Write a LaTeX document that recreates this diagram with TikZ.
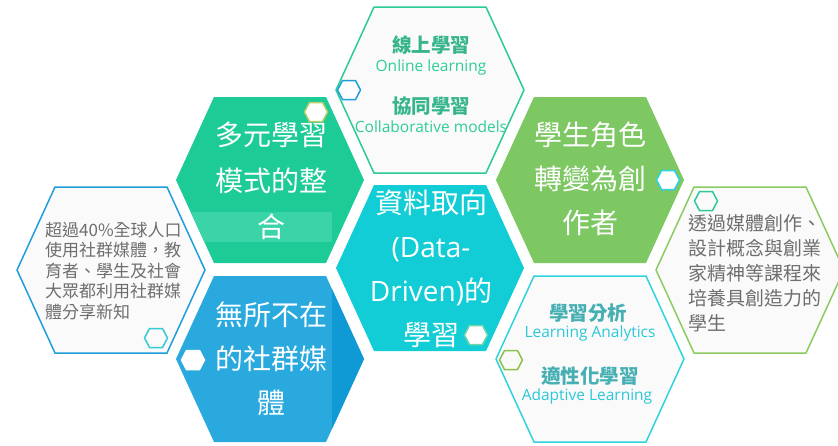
\documentclass[tikz,border=0pt]{standalone}
\usepackage{fontspec}
\setmainfont{Noto Sans CJK TC}
\newfontfamily\latinfont{Open Sans}
\definecolor{tealgreen}{HTML}{1DCB96}
\definecolor{tealband}{HTML}{3AD4A8}
\definecolor{skyblue}{HTML}{29A9DE}
\definecolor{deepblue}{HTML}{0F9AD6}
\definecolor{cyanfill}{HTML}{13CDD6}
\definecolor{leafgreen}{HTML}{7DC863}
\definecolor{paper}{HTML}{FAFAFA}
\definecolor{linegreen}{HTML}{2BCB98}
\definecolor{lineblue}{HTML}{1E9FDA}
\definecolor{linecyan}{HTML}{2ED3DE}
\definecolor{linelime}{HTML}{8ACB62}
\definecolor{graytext}{HTML}{6E6E6E}
\definecolor{headgreen}{HTML}{36B58C}
\definecolor{subgreen}{HTML}{2ECC9A}
\definecolor{headteal}{HTML}{46AFB3}
\definecolor{subcyan}{HTML}{2BC8D8}
\newcommand\hexshape[3]{\path[#3] ({#1-94},#2) -- ({#1-56},{#2-83}) -- ({#1+56},{#2-83}) -- ({#1+94},#2) -- ({#1+56},{#2+83}) -- ({#1-56},{#2+83}) -- cycle;}
\newcommand\minihex[3]{\path[#3] ({#1-11.5},#2) -- ({#1-6.5},{#2-9.5}) -- ({#1+6.5},{#2-9.5}) -- ({#1+11.5},#2) -- ({#1+6.5},{#2+9.5}) -- ({#1-6.5},{#2+9.5}) -- cycle;}
\begin{document}
\begin{tikzpicture}[x=1pt,y=-1pt,
  outlinehex/.style={fill=paper, line width=1.5pt},
  ministyle/.style={line width=1.5pt},
  bigtext/.style={text=white, font=\fontsize{28}{44}\selectfont, align=center, inner sep=0pt},
  headtext/.style={font=\fontsize{19.5}{19.5}\selectfont\bfseries, inner sep=0pt},
  subtext/.style={font=\latinfont\fontsize{15.5}{15.5}\selectfont, inner sep=0pt},
  bodytext/.style={text=graytext, align=left, inner sep=0pt, anchor=west}]
\useasboundingbox (0,0) rectangle (838,445);
\fill[white] (0,0) rectangle (838,445);
% large hexagons
\hexshape{430}{90}{outlinehex, draw=linegreen}
\hexshape{270}{180}{fill=tealgreen}
\begin{scope}
  \hexshape{270}{180}{clip}
  \fill[tealband] (170,212) rectangle (332,242);
\end{scope}
\hexshape{270}{359}{fill=skyblue}
\begin{scope}
  \hexshape{270}{359}{clip}
  \fill[deepblue] (332,270) rectangle (370,450);
\end{scope}
\hexshape{430}{268}{fill=cyanfill}
\hexshape{590}{180}{fill=leafgreen}
\hexshape{590}{359}{outlinehex, draw=linecyan}
\hexshape{111}{270}{outlinehex, draw=lineblue}
\hexshape{750}{270}{outlinehex, draw=linelime}
% small hexagons
\minihex{349}{90}{ministyle, fill=white, draw=lineblue}
\minihex{316}{112}{ministyle, fill=white, draw={rgb,255:red,184;green,207;blue,106}}
\minihex{193}{360}{ministyle, fill=white, draw=white}
\minihex{476}{335}{ministyle, fill=white, draw={rgb,255:red,110;green,214;blue,170}}
\minihex{668}{180}{ministyle, fill=white, draw={rgb,255:red,43;green,211;blue,227}}
\minihex{511}{360}{ministyle, fill=paper, draw={rgb,255:red,139;green,195;blue,74}}
\minihex{156}{338}{ministyle, fill=paper, draw={rgb,255:red,51;green,204;blue,214}}
\minihex{706}{201}{ministyle, fill=paper, draw={rgb,255:red,44;green,201;blue,154}}
% texts
\node[headtext, text=headgreen] (online) at (431,45) {線上學習};
\node[subtext, text=subgreen] (onlineen) at (431,67) {Online learning};
\node[headtext, text=headgreen] (collab) at (431,106) {協同學習};
\node[subtext, text=subgreen] (collaben) at (431,127) {Collaborative models};
\node[bigtext, font=\fontsize{28}{46}\selectfont] (multi) at (271,181) {多元學習\\模式的整\\合};
\node[bigtext] (social) at (271,359) {無所不在\\的社群媒\\體};
\node[bigtext] (data) at (431,269) {資料取向\\{\latinfont (Data-}\\{\latinfont Driven)}的\\學習};
\node[bigtext] (role) at (590,179) {學生角色\\轉變為創\\作者};
\node[headtext, text=headteal] (analytics) at (588,313) {學習分析};
\node[subtext, text=subcyan] (analyticsen) at (590,333) {Learning Analytics};
\node[headtext, text=headteal] (adaptive) at (590,376) {適性化學習};
\node[subtext, text=subcyan] (adaptiveen) at (587,396) {Adaptive Learning};
\node[bodytext, font=\fontsize{17}{20.5}\selectfont] (leftnote) at (45,271) {超過40\%全球人口\\使用社群媒體，教\\育者、學生及社會\\大眾都利用社群媒\\體分享新知};
\node[bodytext, font=\fontsize{19}{25}\selectfont] (rightnote) at (688,273) {透過媒體創作、\\設計概念與創業\\家精神等課程來\\培養具創造力的\\學生};
\end{tikzpicture}
\end{document}
